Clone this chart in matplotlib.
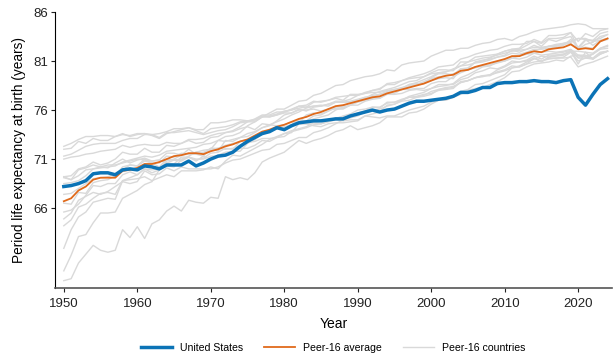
import numpy as np
import matplotlib
matplotlib.use('Agg')
import matplotlib.pyplot as plt

plt.rcParams['font.family'] = ['Liberation Sans', 'DejaVu Sans']

years = list(range(1950, 2025))

# period life expectancy at birth, both sexes
united_states = [
    68.2, 68.3, 68.5, 68.8, 69.5, 69.6, 69.6, 69.4, 69.9, 70.0,
    69.9, 70.3, 70.2, 70.0, 70.4, 70.4, 70.4, 70.8, 70.3, 70.6,
    71.0, 71.3, 71.4, 71.7, 72.3, 72.8, 73.2, 73.6, 73.8, 74.2,
    74.0, 74.4, 74.7, 74.8, 74.9, 74.9, 75.0, 75.1, 75.1, 75.4,
    75.6, 75.8, 76.0, 75.8, 76.0, 76.1, 76.4, 76.7, 76.9, 76.9,
    77.0, 77.1, 77.2, 77.4, 77.8, 77.8, 78.0, 78.3, 78.3, 78.7,
    78.8, 78.8, 78.9, 78.9, 79.0, 78.9, 78.9, 78.8, 79.0, 79.1,
    77.3, 76.5, 77.6, 78.6, 79.2,
]

peer_average = [
    66.7, 67.0, 67.8, 68.2, 68.9, 69.1, 69.1, 69.1, 69.8, 69.9,
    70.1, 70.5, 70.5, 70.7, 71.0, 71.3, 71.4, 71.6, 71.6, 71.5,
    71.8, 72.0, 72.3, 72.5, 72.8, 73.0, 73.4, 73.8, 74.0, 74.3,
    74.5, 74.8, 75.1, 75.3, 75.6, 75.8, 76.1, 76.4, 76.5, 76.7,
    76.9, 77.1, 77.3, 77.4, 77.7, 77.9, 78.1, 78.3, 78.5, 78.7,
    79.0, 79.3, 79.5, 79.6, 80.0, 80.1, 80.4, 80.6, 80.8, 81.0,
    81.2, 81.5, 81.5, 81.8, 82.0, 81.9, 82.2, 82.3, 82.4, 82.7,
    82.2, 82.3, 82.2, 83.0, 83.3,
]

japan = [
    59.6, 61.2, 63.1, 63.3, 64.5, 65.5, 65.5, 65.6, 67.0, 67.4,
    67.8, 68.4, 68.7, 69.9, 70.3, 70.2, 70.9, 71.3, 71.7, 71.9,
    72.0, 72.9, 73.3, 73.4, 73.7, 74.4, 74.8, 75.3, 75.7, 76.1,
    76.1, 76.5, 76.9, 77.0, 77.5, 77.7, 78.1, 78.5, 78.6, 79.0,
    79.2, 79.4, 79.5, 79.7, 80.1, 80.0, 80.6, 80.8, 80.9, 81.0,
    81.5, 81.8, 82.1, 82.1, 82.3, 82.3, 82.6, 82.8, 82.9, 83.2,
    83.3, 83.1, 83.5, 83.7, 84.0, 84.2, 84.3, 84.4, 84.5, 84.7,
    84.8, 84.7, 84.3, 84.3, 84.3,
]
norway = [
    72.3, 72.6, 73.0, 73.3, 73.3, 73.4, 73.4, 73.3, 73.5, 73.4,
    73.6, 73.6, 73.4, 73.1, 73.6, 73.8, 74.0, 74.2, 73.9, 73.6,
    74.1, 74.2, 74.3, 74.5, 74.8, 74.9, 75.0, 75.4, 75.3, 75.5,
    75.7, 75.7, 76.0, 76.0, 76.1, 75.9, 76.1, 76.1, 76.1, 76.5,
    76.5, 76.9, 77.1, 77.2, 77.7, 77.7, 78.1, 78.1, 78.2, 78.2,
    78.7, 78.9, 78.9, 79.4, 79.8, 80.1, 80.3, 80.5, 80.6, 80.8,
    81.0, 81.3, 81.5, 81.7, 82.0, 82.3, 82.5, 82.7, 82.8, 83.0,
    83.3, 83.2, 82.6, 83.1, 83.3,
]
sweden = [
    71.3, 71.5, 71.9, 72.3, 72.5, 72.6, 72.6, 72.6, 72.9, 73.1,
    73.1, 73.5, 73.5, 73.6, 73.8, 74.1, 74.1, 74.2, 74.0, 74.0,
    74.7, 74.7, 74.8, 75.0, 75.0, 74.9, 75.0, 75.3, 75.3, 75.5,
    75.8, 76.1, 76.4, 76.5, 76.9, 76.8, 77.0, 77.2, 77.0, 77.6,
    77.6, 77.7, 78.0, 78.1, 78.7, 78.8, 79.0, 79.2, 79.3, 79.4,
    79.7, 79.8, 79.9, 80.1, 80.5, 80.6, 80.8, 80.9, 81.1, 81.4,
    81.5, 81.8, 81.7, 81.9, 82.2, 82.2, 82.3, 82.4, 82.6, 83.2,
    82.4, 83.2, 83.1, 83.3, 83.7,
]
netherlands = [
    72.0, 72.1, 72.8, 72.6, 73.1, 72.9, 72.9, 73.3, 73.6, 73.3,
    73.5, 73.6, 73.5, 73.2, 73.7, 73.7, 73.8, 73.9, 73.7, 73.5,
    73.7, 73.9, 74.0, 74.3, 74.7, 74.8, 74.8, 75.3, 75.4, 75.6,
    75.9, 76.0, 76.2, 76.3, 76.4, 76.5, 76.4, 76.8, 76.8, 76.9,
    77.1, 77.3, 77.3, 77.2, 77.6, 77.6, 77.7, 78.0, 78.1, 78.0,
    78.2, 78.4, 78.5, 78.7, 79.3, 79.6, 80.0, 80.4, 80.5, 80.9,
    81.0, 81.3, 81.2, 81.4, 81.8, 81.6, 81.7, 81.8, 81.9, 82.1,
    81.4, 81.5, 81.7, 82.2, 82.3,
]
denmark = [
    71.0, 71.2, 71.3, 71.5, 71.6, 71.8, 71.9, 72.0, 72.4, 72.2,
    72.4, 72.5, 72.4, 72.4, 72.7, 72.6, 72.6, 73.0, 73.0, 73.1,
    73.4, 73.6, 73.7, 73.8, 74.1, 74.3, 74.0, 74.6, 74.5, 74.4,
    74.2, 74.5, 74.6, 74.6, 74.7, 74.6, 74.8, 75.0, 74.9, 75.0,
    75.0, 75.4, 75.3, 75.2, 75.4, 75.4, 75.7, 76.0, 76.2, 76.4,
    76.8, 77.0, 77.0, 77.3, 77.6, 78.0, 78.2, 78.3, 78.6, 78.9,
    79.3, 79.9, 80.0, 80.4, 80.7, 80.8, 80.9, 81.1, 81.0, 81.5,
    81.6, 81.4, 81.3, 81.9, 82.0,
]
switzerland = [
    69.2, 69.3, 70.0, 70.2, 70.7, 70.4, 70.6, 71.0, 71.7, 71.5,
    71.5, 72.1, 71.7, 71.7, 72.4, 72.3, 72.6, 72.9, 72.6, 72.7,
    73.2, 73.3, 73.7, 73.9, 74.3, 74.8, 75.1, 75.5, 75.5, 75.8,
    75.8, 76.0, 76.4, 76.3, 76.8, 76.9, 77.0, 77.3, 77.4, 77.5,
    77.5, 77.8, 78.0, 78.2, 78.6, 78.6, 79.0, 79.3, 79.5, 79.7,
    80.0, 80.4, 80.5, 80.6, 81.2, 81.4, 81.7, 81.9, 82.1, 82.2,
    82.5, 82.7, 82.7, 82.8, 83.2, 82.9, 83.6, 83.6, 83.7, 83.9,
    83.0, 83.8, 83.5, 84.1, 84.3,
]
australia = [
    69.1, 68.9, 69.3, 69.9, 70.0, 70.2, 70.1, 70.6, 71.0, 70.6,
    70.9, 71.1, 70.8, 70.9, 70.6, 70.9, 70.8, 71.2, 70.8, 71.3,
    71.0, 71.4, 71.7, 71.8, 71.8, 72.6, 73.0, 73.6, 73.8, 74.4,
    74.5, 74.8, 74.7, 75.5, 75.7, 75.6, 75.9, 76.2, 76.2, 76.5,
    77.0, 77.3, 77.4, 77.6, 77.8, 78.0, 78.2, 78.6, 78.8, 79.1,
    79.4, 79.8, 79.9, 80.2, 80.5, 80.9, 81.1, 81.3, 81.4, 81.6,
    81.8, 82.0, 82.1, 82.2, 82.4, 82.4, 82.5, 82.5, 82.8, 82.9,
    83.3, 83.3, 83.0, 83.1, 83.3,
]
united_kingdom = [
    69.2, 68.9, 69.9, 70.1, 70.4, 70.2, 70.4, 70.4, 70.6, 70.8,
    71.0, 70.9, 70.8, 70.9, 71.6, 71.6, 71.4, 72.0, 71.5, 71.7,
    71.9, 72.1, 72.0, 72.1, 72.4, 72.7, 72.8, 73.1, 73.1, 73.2,
    73.6, 73.9, 74.1, 74.3, 74.7, 74.6, 74.9, 75.2, 75.3, 75.3,
    75.7, 75.9, 76.3, 76.2, 76.8, 76.8, 77.0, 77.3, 77.3, 77.5,
    77.9, 78.1, 78.2, 78.3, 78.8, 79.0, 79.3, 79.5, 79.6, 80.1,
    80.4, 80.8, 80.9, 81.0, 81.3, 81.0, 81.2, 81.3, 81.3, 81.4,
    80.4, 80.7, 80.9, 81.2, 81.5,
]
canada = [
    68.5, 68.6, 68.8, 69.3, 70.0, 70.1, 70.2, 70.3, 70.7, 70.9,
    71.1, 71.3, 71.2, 71.4, 71.8, 71.9, 72.0, 72.1, 72.2, 72.5,
    72.6, 72.9, 72.8, 73.0, 73.2, 73.6, 73.8, 74.2, 74.5, 74.8,
    75.1, 75.5, 75.8, 76.2, 76.4, 76.4, 76.6, 76.9, 76.9, 77.1,
    77.5, 77.7, 77.8, 77.8, 78.0, 78.1, 78.3, 78.5, 78.6, 78.9,
    79.2, 79.4, 79.5, 79.7, 80.0, 80.1, 80.4, 80.5, 80.6, 80.9,
    81.2, 81.4, 81.6, 81.7, 81.8, 81.9, 82.0, 81.9, 82.0, 82.2,
    81.6, 81.6, 81.2, 81.7, 82.0,
]
france = [
    66.5, 66.4, 67.6, 67.5, 68.6, 68.8, 68.9, 69.3, 70.2, 70.4,
    70.3, 71.0, 70.6, 70.6, 71.3, 71.2, 71.6, 71.5, 71.5, 71.3,
    72.1, 72.1, 72.4, 72.6, 72.8, 73.0, 73.2, 73.7, 73.8, 74.1,
    74.3, 74.5, 74.8, 74.8, 75.1, 75.3, 75.5, 76.0, 76.3, 76.5,
    76.8, 77.0, 77.2, 77.3, 77.7, 77.9, 78.1, 78.4, 78.6, 78.7,
    79.0, 79.2, 79.3, 79.2, 80.2, 80.3, 80.9, 81.1, 81.2, 81.4,
    81.6, 82.1, 81.9, 82.2, 82.6, 82.3, 82.5, 82.6, 82.7, 82.8,
    82.2, 82.4, 82.3, 83.0, 83.2,
]
italy = [
    65.6, 65.8, 66.4, 67.3, 68.3, 68.2, 68.5, 68.5, 69.4, 69.7,
    69.4, 70.0, 69.6, 69.9, 70.6, 70.5, 71.2, 71.2, 70.9, 71.1,
    71.6, 71.7, 72.1, 72.0, 72.8, 72.9, 73.0, 73.6, 73.9, 74.1,
    74.0, 74.5, 75.0, 74.9, 75.4, 75.5, 75.9, 76.3, 76.4, 76.8,
    77.0, 77.2, 77.6, 77.9, 78.1, 78.3, 78.6, 78.9, 79.0, 79.4,
    79.8, 80.1, 80.1, 80.0, 80.9, 80.9, 81.4, 81.5, 81.6, 81.7,
    82.0, 82.2, 82.2, 82.6, 83.0, 82.5, 83.2, 83.0, 83.3, 83.5,
    82.2, 82.7, 82.9, 83.5, 83.7,
]
austria = [
    64.9, 65.5, 66.8, 67.2, 67.6, 67.4, 67.7, 68.2, 68.7, 68.5,
    68.7, 69.8, 69.4, 69.5, 70.1, 69.8, 70.2, 70.0, 70.0, 70.0,
    70.0, 70.2, 70.6, 70.9, 71.0, 71.3, 71.6, 71.9, 72.0, 72.5,
    72.6, 72.9, 73.2, 73.2, 73.7, 73.9, 74.2, 74.6, 75.0, 75.2,
    75.4, 75.8, 75.9, 76.1, 76.4, 76.6, 77.0, 77.4, 77.6, 77.8,
    78.2, 78.6, 78.6, 78.6, 79.1, 79.3, 79.8, 80.0, 80.3, 80.2,
    80.5, 81.0, 80.9, 81.1, 81.5, 81.2, 81.6, 81.6, 81.7, 82.0,
    81.3, 81.3, 81.2, 81.8, 82.0,
]
finland = [
    64.2, 64.8, 66.1, 66.4, 67.0, 67.5, 67.6, 67.4, 68.8, 68.9,
    69.0, 69.2, 68.8, 69.1, 69.4, 69.2, 69.8, 69.8, 69.8, 69.9,
    70.2, 70.0, 70.8, 71.4, 71.3, 71.7, 72.1, 72.5, 73.0, 73.3,
    73.6, 73.7, 74.6, 74.6, 74.4, 74.3, 74.6, 74.7, 74.7, 74.8,
    74.9, 75.4, 75.6, 75.8, 76.5, 76.6, 76.9, 77.0, 77.3, 77.4,
    77.6, 78.1, 78.3, 78.4, 78.8, 79.0, 79.3, 79.4, 79.6, 79.8,
    80.0, 80.3, 80.5, 80.9, 81.2, 81.5, 81.4, 81.6, 81.7, 82.0,
    82.0, 81.9, 81.2, 81.7, 82.0,
]
belgium = [
    67.4, 67.5, 68.0, 68.5, 69.0, 69.1, 69.2, 69.5, 69.9, 70.4,
    70.3, 70.8, 70.6, 70.2, 71.0, 70.9, 71.0, 71.2, 71.0, 71.0,
    71.3, 71.3, 71.5, 71.8, 72.1, 72.1, 72.4, 72.9, 72.8, 73.2,
    73.3, 73.8, 74.0, 74.2, 74.5, 74.6, 74.9, 75.1, 75.4, 75.6,
    76.0, 76.1, 76.3, 76.3, 76.7, 76.8, 77.1, 77.3, 77.4, 77.6,
    77.7, 78.0, 78.1, 78.2, 78.9, 79.0, 79.3, 79.5, 79.5, 79.9,
    80.1, 80.5, 80.4, 80.7, 81.3, 80.9, 81.4, 81.5, 81.6, 82.0,
    80.7, 81.9, 81.8, 82.3, 82.5,
]
spain = [
    61.9, 63.8, 65.1, 65.6, 66.6, 66.8, 67.0, 66.9, 68.8, 69.1,
    69.4, 70.0, 69.9, 70.0, 70.8, 71.0, 71.4, 71.5, 71.7, 71.6,
    72.1, 71.8, 72.9, 72.8, 73.2, 73.3, 73.7, 74.2, 74.4, 74.9,
    75.5, 75.7, 76.1, 75.9, 76.3, 76.4, 76.6, 76.8, 76.8, 76.8,
    76.9, 77.1, 77.5, 77.6, 77.9, 78.1, 78.2, 78.6, 78.7, 78.7,
    79.3, 79.7, 79.7, 79.6, 80.2, 80.2, 80.9, 81.0, 81.3, 81.7,
    82.0, 82.2, 82.3, 83.0, 83.0, 82.8, 83.3, 83.3, 83.4, 83.9,
    82.3, 83.1, 83.1, 83.8, 84.0,
]
portugal = [
    58.6, 58.8, 60.4, 61.3, 62.2, 61.7, 61.5, 61.7, 63.8, 63.0,
    64.1, 62.9, 64.4, 64.8, 65.7, 66.2, 65.7, 66.8, 66.6, 66.5,
    67.1, 67.0, 69.2, 68.9, 69.1, 68.9, 69.6, 70.7, 71.1, 71.4,
    71.7, 72.3, 72.9, 72.6, 72.9, 73.1, 73.4, 73.8, 74.0, 74.4,
    74.0, 74.2, 74.4, 74.7, 75.3, 75.3, 75.3, 75.7, 75.8, 76.1,
    76.6, 77.0, 77.2, 77.3, 77.9, 78.1, 78.6, 78.7, 79.0, 79.3,
    79.6, 80.3, 80.4, 80.7, 80.9, 81.0, 81.3, 81.3, 81.4, 81.9,
    81.0, 81.3, 81.7, 82.3, 82.6,
]

peer_countries = [japan, norway, sweden, netherlands, denmark, switzerland,
                  australia, united_kingdom, canada, france, italy, austria,
                  finland, belgium, spain, portugal]

us_color = '#0b73b6'
avg_color = '#e06a1b'
peer_color = '#d9d9d9'

fig = plt.figure(figsize=(6.13, 3.54), dpi=100)
ax = fig.add_axes([0.0897, 0.1864, 0.9086, 0.7797])

# each peer country as a thin gray line, one legend entry for all of them
for i, country in enumerate(peer_countries):
    ax.plot(years, country, color=peer_color, lw=1.0,
            label='Peer-16 countries' if i == 0 else None)

ax.plot(years, peer_average, color=avg_color, lw=1.3, label='Peer-16 average')
ax.plot(years, united_states, color=us_color, lw=2.5, label='United States')

ax.set_xlim(1948.8, 2024.6)
ax.set_ylim(57.85, 86)
ax.set_yticks([66, 71, 76, 81, 86])
ax.set_xticks([1950, 1960, 1970, 1980, 1990, 2000, 2010, 2020])

ax.spines['top'].set_visible(False)
ax.spines['right'].set_visible(False)
ax.spines['left'].set_color('black')
ax.spines['bottom'].set_color('#555555')
ax.spines['bottom'].set_linewidth(1.2)
ax.tick_params(labelsize=9.5, length=3, width=0.8, colors='#222222', pad=2)
ax.tick_params(axis='x', pad=4)

ax.set_xlabel('Year', fontsize=10, labelpad=5)
ax.set_ylabel('Period life expectancy at birth (years)', fontsize=9.8, labelpad=5)

handles, labels = ax.get_legend_handles_labels()
order = [2, 1, 0]
ax.legend([handles[i] for i in order], [labels[i] for i in order],
          loc='lower center', bbox_to_anchor=(0.5, -0.262), ncol=3,
          frameon=False, fontsize=7.6, handlelength=2.9, columnspacing=2.0,
          borderpad=0.2)

fig.savefig('out.png', dpi=100)
